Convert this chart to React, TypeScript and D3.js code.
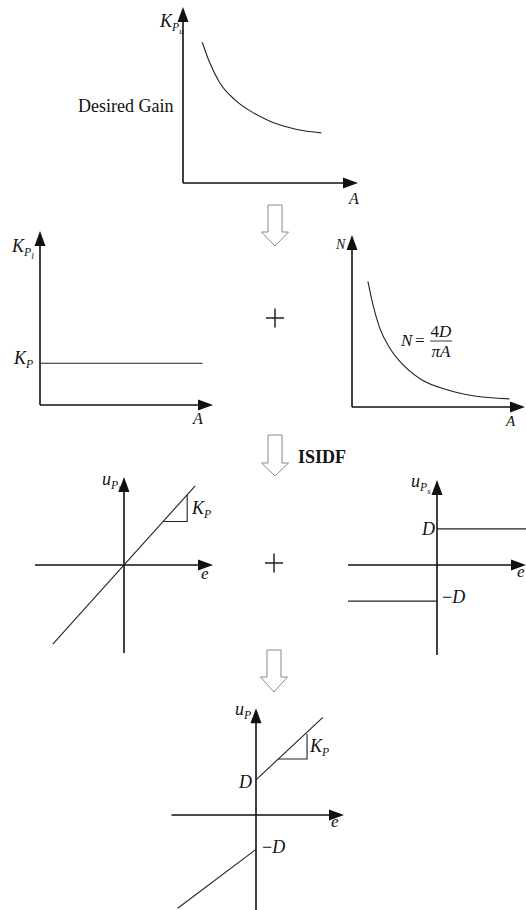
import React from "react";
import * as d3 from "d3";

// ---- data ----
const desiredGainA = [1.1, 1.5, 2.1, 3.0, 4.0, 5.0, 5.9, 7.0, 7.9];
const desiredGainK = [8.0, 6.9, 5.7, 4.7, 4.0, 3.5, 3.2, 2.95, 2.85];
const nA = [0.92, 1.2, 1.6, 2.2, 3.0, 4.0, 5.5, 7.0, 9.1];
const nValues = [7.3, 6.0, 4.6, 3.4, 2.4, 1.6, 1.0, 0.65, 0.47];
const kpLevel = 2.4;
const kpAExtent = [0, 9.4];
const linearE = [-4, 4];
const linearU = [-4.5, 4.5];
const linearTriE = [2.2, 3.55];
const relayD = 2.05;
const combinedUpperE = [0, 3.8];
const combinedUpperU = [2, 5.55];
const combinedLowerE = [-4.45, 0];
const combinedLowerU = [-5.3, -1.95];
const combinedTriE = [1.25, 2.9];
const combinedTriU = [3.18, 4.6];

const FONT = "'Liberation Serif', 'DejaVu Serif', 'Times New Roman', serif";
const AX = "#111";
const LN = "#222";

type Sc = d3.ScaleLinear<number, number>;

function ArrowHead({ x, y, dir }: { x: number; y: number; dir: "up" | "right" }) {
  const L = 15, W = 5.5;
  const d =
    dir === "up"
      ? `M${x},${y} L${x - W},${y + L} L${x + W},${y + L} Z`
      : `M${x},${y} L${x - L},${y - W} L${x - L},${y + W} Z`;
  return <path d={d} fill={AX} />;
}

function Axes({ xs, ys, xExt, yExt }: { xs: Sc; ys: Sc; xExt: number[]; yExt: number[] }) {
  const x0 = xs(0), y0 = ys(0);
  return (
    <g>
      <line x1={x0} y1={ys(yExt[0])} x2={x0} y2={ys(yExt[1]) + 10} stroke={AX} strokeWidth={1.6} />
      <line x1={xs(xExt[0])} y1={y0} x2={xs(xExt[1]) - 10} y2={y0} stroke={AX} strokeWidth={1.6} />
      <ArrowHead x={x0} y={ys(yExt[1])} dir="up" />
      <ArrowHead x={xs(xExt[1])} y={y0} dir="right" />
    </g>
  );
}

function Sym({ x, y, main, sub, subsub, size = 18 }: { x: number; y: number; main: string; sub?: string; subsub?: string; size?: number }) {
  return (
    <text x={x} y={y} fontFamily={FONT} fontStyle="italic" fontSize={size} fill="#111">
      {main}
      {sub && (
        <tspan fontSize={size * 0.65} dy={4}>
          {sub}
        </tspan>
      )}
      {subsub && (
        <tspan fontSize={size * 0.5} dy={3}>
          {subsub}
        </tspan>
      )}
    </text>
  );
}

function HollowArrow({ cx, top, shaftBottom, tip }: { cx: number; top: number; shaftBottom: number; tip: number }) {
  const sw = 7, hw = 13.5;
  const d = `M${cx - sw},${top} L${cx + sw},${top} L${cx + sw},${shaftBottom} L${cx + hw},${shaftBottom} L${cx},${tip} L${cx - hw},${shaftBottom} L${cx - sw},${shaftBottom} Z`;
  return <path d={d} fill="#fff" stroke="#888" strokeWidth={1} />;
}

function Plus({ cx, cy }: { cx: number; cy: number }) {
  return (
    <g stroke="#222" strokeWidth={1.5}>
      <line x1={cx - 9} y1={cy} x2={cx + 9} y2={cy} />
      <line x1={cx} y1={cy - 9.5} x2={cx} y2={cy + 9.5} />
    </g>
  );
}

export default function App() {
  const p1x = d3.scaleLinear().domain([0, 10]).range([183, 358]);
  const p1y = d3.scaleLinear().domain([0, 10]).range([183, 7]);
  const curve1 = d3
    .line<number>()
    .x((_, i) => p1x(desiredGainA[i]))
    .y((k) => p1y(k))
    .curve(d3.curveMonotoneX)(desiredGainK) as string;

  const p2lx = d3.scaleLinear().domain([0, 10]).range([40, 213]);
  const p2ly = d3.scaleLinear().domain([0, 10]).range([405, 231]);

  const p2rx = d3.scaleLinear().domain([0, 10]).range([352, 525]);
  const p2ry = d3.scaleLinear().domain([0, 10]).range([407, 235]);
  const curve2 = d3
    .line<number>()
    .x((_, i) => p2rx(nA[i]))
    .y((v) => p2ry(v))
    .curve(d3.curveMonotoneX)(nValues) as string;

  const p3lx = d3.scaleLinear().domain([-5, 5]).range([35, 213]);
  const p3ly = d3.scaleLinear().domain([-5, 5]).range([653, 477]);
  const kpSlope = linearU[1] / linearE[1];

  const p3rx = d3.scaleLinear().domain([-5, 5]).range([348, 526]);
  const p3ry = d3.scaleLinear().domain([-5, 5]).range([653, 477]);

  const p4x = d3.scaleLinear().domain([-5, 5]).range([168, 344]);
  const p4y = d3.scaleLinear().domain([-6, 6]).range([920.6, 709.4]);

  return (
    <svg width={526} height={910} style={{ position: "absolute", left: 0, top: 0, background: "#fff" }}>
      <rect width={526} height={910} fill="#fff" />

      {/* Panel 1 */}
      <Axes xs={p1x} ys={p1y} xExt={[0, 10]} yExt={[0, 10]} />
      <path d={curve1} fill="none" stroke={LN} strokeWidth={1.1} />
      <Sym x={160} y={27} main="K" sub="P" subsub="u" />
      <text x={78} y={112} fontFamily={FONT} fontSize={18} fill="#111">
        Desired Gain
      </text>
      <Sym x={349} y={204} main="A" size={16} />

      <HollowArrow cx={275} top={205} shaftBottom={232} tip={246} />

      {/* Panel 2 left */}
      <Axes xs={p2lx} ys={p2ly} xExt={[0, 10]} yExt={[0, 10]} />
      <line x1={p2lx(kpAExtent[0])} x2={p2lx(kpAExtent[1])} y1={p2ly(kpLevel)} y2={p2ly(kpLevel)} stroke={LN} strokeWidth={1.1} />
      <Sym x={12} y={252} main="K" sub="P" subsub="l" />
      <Sym x={14} y={364} main="K" sub="P" />
      <Sym x={193} y={424} main="A" size={16} />

      <Plus cx={275} cy={318} />

      {/* Panel 2 right */}
      <Axes xs={p2rx} ys={p2ry} xExt={[0, 10]} yExt={[0, 10]} />
      <path d={curve2} fill="none" stroke={LN} strokeWidth={1.1} />
      <Sym x={336} y={249} main="N" size={14} />
      <Sym x={506} y={426} main="A" size={15} />
      <g fontFamily={FONT} fontSize={17} fill="#111">
        <text x={401} y={346} fontStyle="italic">N</text>
        <text x={415} y={346}>=</text>
        <text x={441} y={337} textAnchor="middle">
          4<tspan fontStyle="italic">D</tspan>
        </text>
        <line x1={430} x2={452} y1={341} y2={341} stroke="#222" strokeWidth={0.9} />
        <text x={441} y={357} textAnchor="middle" fontStyle="italic">
          πA
        </text>
      </g>

      <HollowArrow cx={275} top={435} shaftBottom={463} tip={476} />
      <text x={298} y={463} fontFamily={FONT} fontSize={18} fontWeight="bold" fill="#111">
        ISIDF
      </text>

      {/* Panel 3 left */}
      <Axes xs={p3lx} ys={p3ly} xExt={[-5, 5]} yExt={[-5, 5]} />
      <line x1={p3lx(linearE[0])} y1={p3ly(linearU[0])} x2={p3lx(linearE[1])} y2={p3ly(linearU[1])} stroke={LN} strokeWidth={1.1} />
      <path
        d={`M${p3lx(linearTriE[0])},${p3ly(kpSlope * linearTriE[0])} H${p3lx(linearTriE[1])} V${p3ly(kpSlope * linearTriE[1])}`}
        fill="none"
        stroke={LN}
        strokeWidth={1.1}
      />
      <Sym x={102} y={485} main="u" sub="P" subsub="l" />
      <Sym x={192} y={514} main="K" sub="P" />
      <Sym x={201} y={579} main="e" size={17} />

      <Plus cx={274} cy={563} />

      {/* Panel 3 right */}
      <Axes xs={p3rx} ys={p3ry} xExt={[-5, 5]} yExt={[-5.11, 4.83]} />
      <line x1={p3rx(0)} x2={p3rx(5)} y1={p3ry(relayD)} y2={p3ry(relayD)} stroke={LN} strokeWidth={1.1} />
      <line x1={p3rx(-5)} x2={p3rx(0)} y1={p3ry(-relayD)} y2={p3ry(-relayD)} stroke={LN} strokeWidth={1.1} />
      <Sym x={411} y={487} main="u" sub="P" subsub="s" />
      <Sym x={422} y={535} main="D" />
      <text x={442} y={603} fontFamily={FONT} fontSize={18} fill="#111">
        −<tspan fontStyle="italic">D</tspan>
      </text>
      <Sym x={517} y={577} main="e" size={17} />

      <HollowArrow cx={274} top={650} shaftBottom={677} tip={692} />

      {/* Panel 4 */}
      <Axes xs={p4x} ys={p4y} xExt={[-4.8, 5]} yExt={[-5.5, 6.06]} />
      <line x1={p4x(combinedUpperE[0])} y1={p4y(combinedUpperU[0])} x2={p4x(combinedUpperE[1])} y2={p4y(combinedUpperU[1])} stroke={LN} strokeWidth={1.1} />
      <line x1={p4x(combinedLowerE[0])} y1={p4y(combinedLowerU[0])} x2={p4x(combinedLowerE[1])} y2={p4y(combinedLowerU[1])} stroke={LN} strokeWidth={1.1} />
      <path
        d={`M${p4x(combinedTriE[0])},${p4y(combinedTriU[0])} H${p4x(combinedTriE[1])} V${p4y(combinedTriU[1])}`}
        fill="none"
        stroke={LN}
        strokeWidth={1.1}
      />
      <Sym x={235} y={715} main="u" sub="P" subsub="n" />
      <Sym x={310} y={752} main="K" sub="P" />
      <Sym x={239} y={788} main="D" />
      <text x={262} y={853} fontFamily={FONT} fontSize={18} fill="#111">
        −<tspan fontStyle="italic">D</tspan>
      </text>
      <Sym x={331} y={827} main="e" size={17} />
    </svg>
  );
}
